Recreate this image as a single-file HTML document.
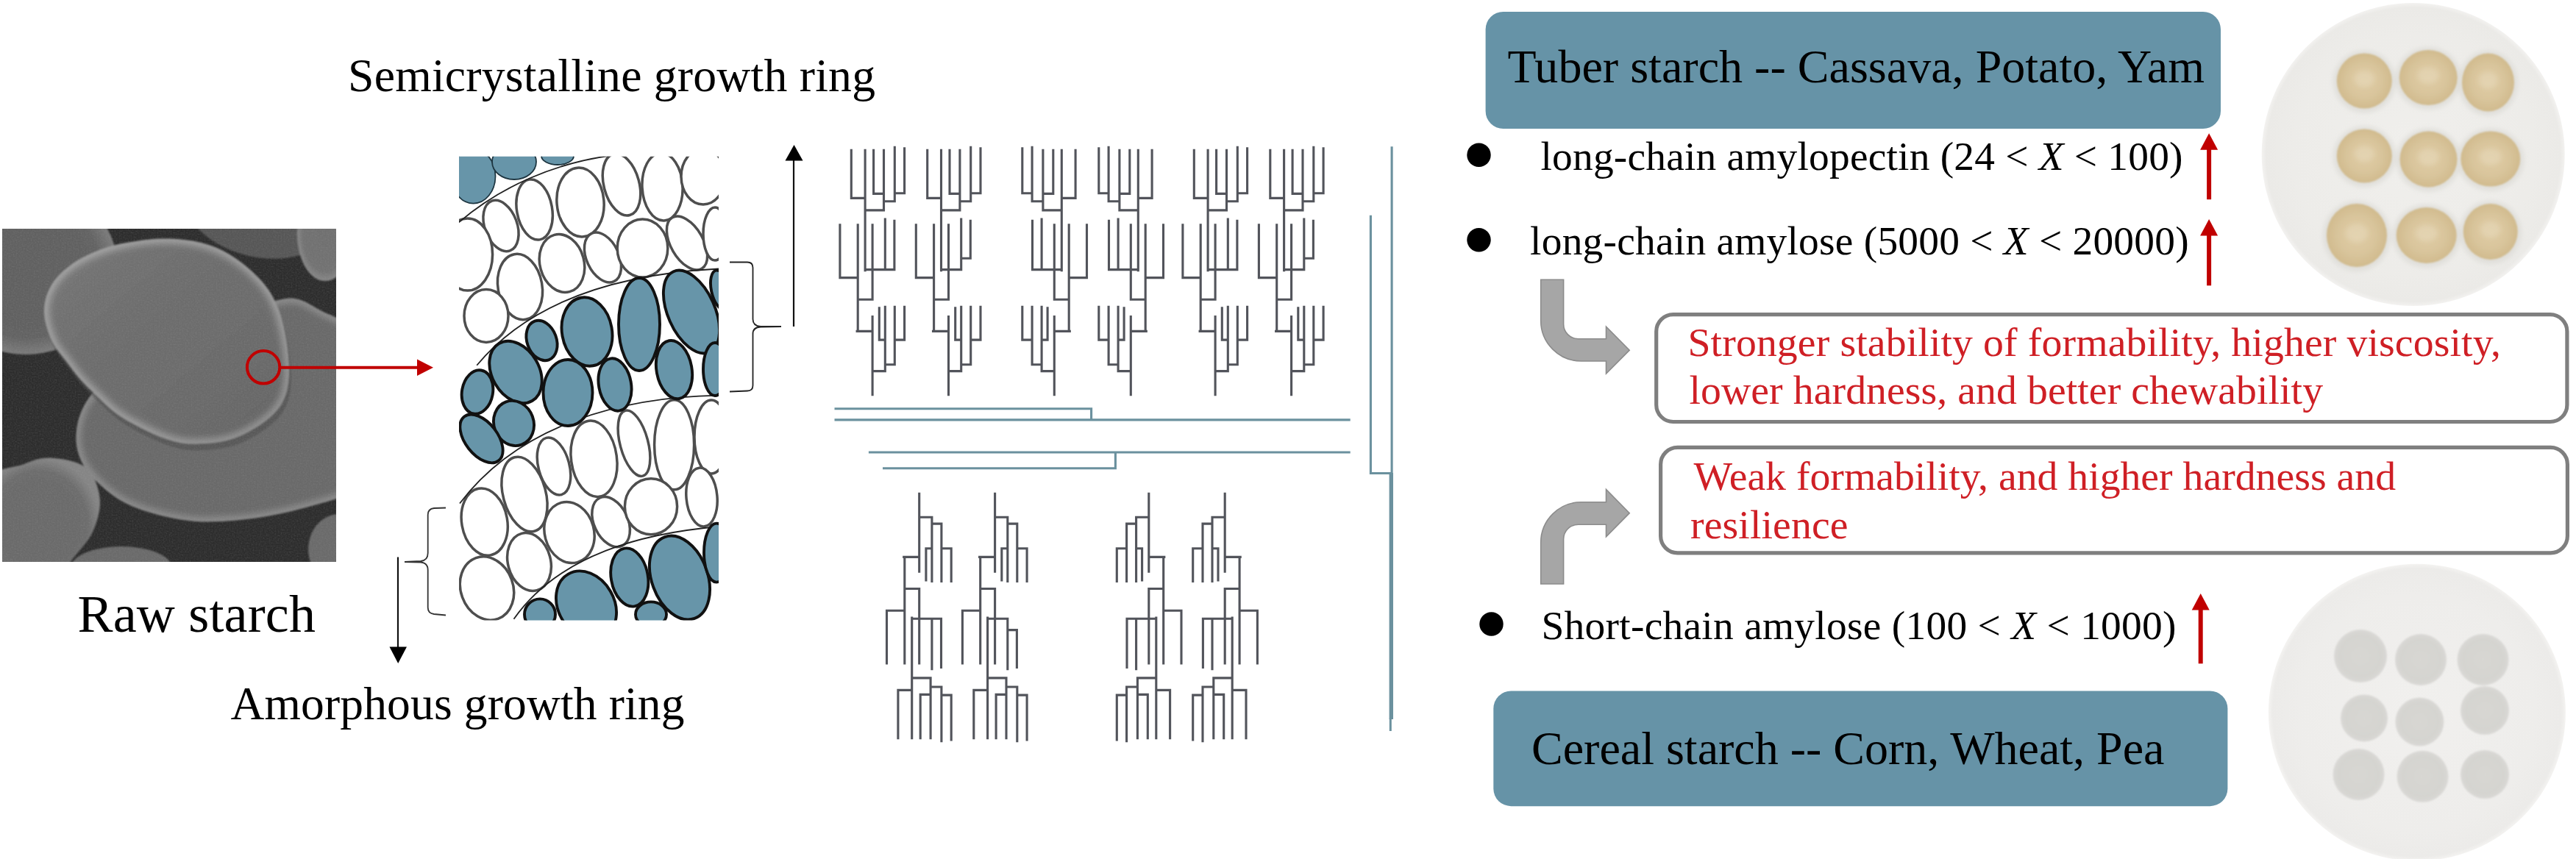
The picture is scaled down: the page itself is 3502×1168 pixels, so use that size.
<!DOCTYPE html>
<html><head><meta charset="utf-8"><title>Starch</title>
<style>html,body{margin:0;padding:0;background:#fff;}svg{display:block}text{font-family:"Liberation Serif",serif;}</style>
</head><body>
<svg width="3502" height="1168" viewBox="0 0 3502 1168">
<defs>
<clipPath id="semclip"><rect x="3" y="311" width="454" height="453"/></clipPath>
<clipPath id="ringclip"><rect x="624" y="212.8" width="353" height="630.8"/></clipPath>
<radialGradient id="gMain" ><stop offset="0" stop-color="#6d6d6d"/><stop offset="0.7" stop-color="#707070"/><stop offset="0.9" stop-color="#808080"/><stop offset="1" stop-color="#969696"/></radialGradient>
<radialGradient id="gSecond" ><stop offset="0" stop-color="#686868"/><stop offset="0.75" stop-color="#6a6a6a"/><stop offset="0.93" stop-color="#767676"/><stop offset="1" stop-color="#8c8c8c"/></radialGradient>
<radialGradient id="gTL" ><stop offset="0" stop-color="#606060"/><stop offset="0.8" stop-color="#626262"/><stop offset="1" stop-color="#7c7c7c"/></radialGradient>
<radialGradient id="gBL" ><stop offset="0" stop-color="#6a6a6a"/><stop offset="0.8" stop-color="#6c6c6c"/><stop offset="1" stop-color="#858585"/></radialGradient>
<radialGradient id="gTR" ><stop offset="0" stop-color="#707070"/><stop offset="0.8" stop-color="#727272"/><stop offset="1" stop-color="#888888"/></radialGradient>
<radialGradient id="gPlate1" ><stop offset="0" stop-color="#f0efec"/><stop offset="0.8" stop-color="#edece9"/><stop offset="0.97" stop-color="#ebeae7"/><stop offset="1" stop-color="#f3f2f0"/></radialGradient>
<radialGradient id="gPlate2" ><stop offset="0" stop-color="#f1f0ee"/><stop offset="0.8" stop-color="#eeedeb"/><stop offset="0.97" stop-color="#ecebe9"/><stop offset="1" stop-color="#f4f3f1"/></radialGradient>
<radialGradient id="gDough" ><stop offset="0" stop-color="#dfcca5"/><stop offset="0.6" stop-color="#d9c59c"/><stop offset="1" stop-color="#d1bb8e"/></radialGradient>
<radialGradient id="gGray" ><stop offset="0" stop-color="#d8d7d3"/><stop offset="0.8" stop-color="#d5d4d0"/><stop offset="1" stop-color="#dad9d6"/></radialGradient>
<filter id="noise" x="0" y="0" width="100%" height="100%"><feTurbulence type="fractalNoise" baseFrequency="0.5" numOctaves="2" seed="3" result="n"/><feColorMatrix in="n" type="matrix" values="0 0 0 0 0.5  0 0 0 0 0.5  0 0 0 0 0.5  0.35 0.35 0.35 0 -0.42"/></filter>
<linearGradient id="gLight" x1="0" y1="0" x2="1" y2="1"><stop offset="0" stop-color="#fff" stop-opacity="0.10"/><stop offset="0.5" stop-color="#808080" stop-opacity="0"/><stop offset="1" stop-color="#000" stop-opacity="0.13"/></linearGradient>
<filter id="blur1"><feGaussianBlur stdDeviation="1.2"/></filter>
<filter id="blur5" x="-10%" y="-10%" width="120%" height="120%"><feGaussianBlur stdDeviation="5"/></filter>
<filter id="blur3"><feGaussianBlur stdDeviation="3"/></filter>
</defs>
<g clip-path="url(#semclip)">
<rect x="3" y="311" width="454" height="453" fill="#2c2c2c"/>
<g filter="url(#blur1)">
<ellipse cx="350" cy="287" rx="100" ry="62" fill="#565656" transform="rotate(14 350 287)"/>
<ellipse cx="35" cy="365" rx="125" ry="117" fill="url(#gTL)"/>
<ellipse cx="442" cy="318" rx="38" ry="64" fill="url(#gTR)"/>
<clipPath id="secclip"><path d="M111.8 556.8C105.7 569.4 103.4 583.8 103.4 595.9C103.4 608.0 106.7 619.2 111.8 629.4C116.9 639.6 124.8 648.4 134.1 657.3C143.4 666.1 154.6 675.5 167.6 682.5C180.6 689.5 196.0 694.9 212.3 699.3C228.6 703.7 247.2 707.6 265.4 709.0C283.6 710.4 302.7 709.2 321.3 707.6C339.9 706.0 358.6 703.0 377.2 699.3C395.8 695.6 417.5 689.8 433.0 685.3C448.5 680.8 457.2 679.5 470.0 672.0C482.8 664.5 500.0 658.7 510.0 640.0C520.0 621.3 530.0 586.7 530.0 560.0C530.0 533.3 520.0 500.0 510.0 480.0C500.0 460.0 482.1 449.5 470.0 440.0C457.9 430.5 448.5 428.6 437.6 423.0C426.7 417.4 415.7 409.0 404.8 406.7C393.9 404.4 389.5 405.5 372.0 409.4C354.5 413.3 328.7 418.2 300.0 430.0C271.3 441.8 226.7 465.0 200.0 480.0C173.3 495.0 154.7 507.2 140.0 520.0C125.3 532.8 117.9 544.1 111.8 556.8Z"/></clipPath>
<g clip-path="url(#secclip)"><path d="M111.8 556.8C105.7 569.4 103.4 583.8 103.4 595.9C103.4 608.0 106.7 619.2 111.8 629.4C116.9 639.6 124.8 648.4 134.1 657.3C143.4 666.1 154.6 675.5 167.6 682.5C180.6 689.5 196.0 694.9 212.3 699.3C228.6 703.7 247.2 707.6 265.4 709.0C283.6 710.4 302.7 709.2 321.3 707.6C339.9 706.0 358.6 703.0 377.2 699.3C395.8 695.6 417.5 689.8 433.0 685.3C448.5 680.8 457.2 679.5 470.0 672.0C482.8 664.5 500.0 658.7 510.0 640.0C520.0 621.3 530.0 586.7 530.0 560.0C530.0 533.3 520.0 500.0 510.0 480.0C500.0 460.0 482.1 449.5 470.0 440.0C457.9 430.5 448.5 428.6 437.6 423.0C426.7 417.4 415.7 409.0 404.8 406.7C393.9 404.4 389.5 405.5 372.0 409.4C354.5 413.3 328.7 418.2 300.0 430.0C271.3 441.8 226.7 465.0 200.0 480.0C173.3 495.0 154.7 507.2 140.0 520.0C125.3 532.8 117.9 544.1 111.8 556.8Z" fill="#696969"/><path d="M111.8 556.8C105.7 569.4 103.4 583.8 103.4 595.9C103.4 608.0 106.7 619.2 111.8 629.4C116.9 639.6 124.8 648.4 134.1 657.3C143.4 666.1 154.6 675.5 167.6 682.5C180.6 689.5 196.0 694.9 212.3 699.3C228.6 703.7 247.2 707.6 265.4 709.0C283.6 710.4 302.7 709.2 321.3 707.6C339.9 706.0 358.6 703.0 377.2 699.3C395.8 695.6 417.5 689.8 433.0 685.3C448.5 680.8 457.2 679.5 470.0 672.0C482.8 664.5 500.0 658.7 510.0 640.0C520.0 621.3 530.0 586.7 530.0 560.0C530.0 533.3 520.0 500.0 510.0 480.0C500.0 460.0 482.1 449.5 470.0 440.0C457.9 430.5 448.5 428.6 437.6 423.0C426.7 417.4 415.7 409.0 404.8 406.7C393.9 404.4 389.5 405.5 372.0 409.4C354.5 413.3 328.7 418.2 300.0 430.0C271.3 441.8 226.7 465.0 200.0 480.0C173.3 495.0 154.7 507.2 140.0 520.0C125.3 532.8 117.9 544.1 111.8 556.8Z" fill="none" stroke="#8e8e8e" stroke-width="12" filter="url(#blur5)"/></g>
<path d="M-21.9 661.0C-12.8 634.1 17.3 637.3 32.8 630.9C48.3 624.6 57.0 621.8 71.1 622.7C85.2 623.6 106.8 627.3 117.6 636.4C128.4 645.5 134.1 663.3 135.7 677.4C137.2 691.6 132.6 708.0 126.9 721.2C121.2 734.4 111.4 744.9 101.2 756.7C91.0 768.6 86.2 786.4 65.6 792.3C45.1 798.2 -7.3 814.2 -21.9 792.3C-36.5 770.4 -31.0 687.9 -21.9 661.0Z" fill="url(#gBL)"/>
<ellipse cx="165" cy="771" rx="68" ry="28" fill="#6a6a6a"/>
<ellipse cx="461" cy="747" rx="42" ry="48" fill="#6b6b6b"/>
<path d="M60.2 425.8C59.9 418.5 60.6 411.2 62.9 403.9C65.2 396.6 68.8 388.9 73.8 382.1C78.9 375.2 85.2 368.8 93.0 362.9C100.7 357.0 109.4 351.5 120.3 346.5C131.3 341.5 142.2 336.5 158.6 332.8C175.0 329.2 199.7 325.1 218.8 324.6C237.9 324.2 257.1 326.0 273.5 330.1C289.9 334.2 303.6 340.6 317.3 349.2C330.9 357.9 345.5 370.7 355.6 382.1C365.6 393.4 371.8 403.9 377.4 417.6C383.1 431.3 386.9 448.1 389.5 464.1C392.0 480.1 393.8 499.2 392.7 513.3C391.7 527.5 389.1 538.4 382.9 548.9C376.7 559.4 367.4 568.0 355.6 576.2C343.7 584.4 327.3 593.6 311.8 598.1C296.3 602.7 276.2 603.6 262.6 603.6C248.9 603.6 241.6 601.8 229.7 598.1C217.9 594.5 203.3 587.6 191.5 581.7C179.6 575.8 168.7 569.9 158.6 562.6C148.6 555.3 139.5 545.7 131.3 537.9C123.1 530.2 116.2 523.8 109.4 516.1C102.6 508.3 96.2 499.2 90.3 491.5C84.3 483.7 78.1 476.9 73.8 469.6C69.6 462.3 66.8 455.0 64.5 447.7C62.3 440.4 60.4 433.1 60.2 425.8Z" fill="#4c4c4c" opacity="0.55" transform="translate(3 9)"/>
<clipPath id="mainclip"><path d="M60.2 425.8C59.9 418.5 60.6 411.2 62.9 403.9C65.2 396.6 68.8 388.9 73.8 382.1C78.9 375.2 85.2 368.8 93.0 362.9C100.7 357.0 109.4 351.5 120.3 346.5C131.3 341.5 142.2 336.5 158.6 332.8C175.0 329.2 199.7 325.1 218.8 324.6C237.9 324.2 257.1 326.0 273.5 330.1C289.9 334.2 303.6 340.6 317.3 349.2C330.9 357.9 345.5 370.7 355.6 382.1C365.6 393.4 371.8 403.9 377.4 417.6C383.1 431.3 386.9 448.1 389.5 464.1C392.0 480.1 393.8 499.2 392.7 513.3C391.7 527.5 389.1 538.4 382.9 548.9C376.7 559.4 367.4 568.0 355.6 576.2C343.7 584.4 327.3 593.6 311.8 598.1C296.3 602.7 276.2 603.6 262.6 603.6C248.9 603.6 241.6 601.8 229.7 598.1C217.9 594.5 203.3 587.6 191.5 581.7C179.6 575.8 168.7 569.9 158.6 562.6C148.6 555.3 139.5 545.7 131.3 537.9C123.1 530.2 116.2 523.8 109.4 516.1C102.6 508.3 96.2 499.2 90.3 491.5C84.3 483.7 78.1 476.9 73.8 469.6C69.6 462.3 66.8 455.0 64.5 447.7C62.3 440.4 60.4 433.1 60.2 425.8Z"/></clipPath>
<g clip-path="url(#mainclip)"><path d="M60.2 425.8C59.9 418.5 60.6 411.2 62.9 403.9C65.2 396.6 68.8 388.9 73.8 382.1C78.9 375.2 85.2 368.8 93.0 362.9C100.7 357.0 109.4 351.5 120.3 346.5C131.3 341.5 142.2 336.5 158.6 332.8C175.0 329.2 199.7 325.1 218.8 324.6C237.9 324.2 257.1 326.0 273.5 330.1C289.9 334.2 303.6 340.6 317.3 349.2C330.9 357.9 345.5 370.7 355.6 382.1C365.6 393.4 371.8 403.9 377.4 417.6C383.1 431.3 386.9 448.1 389.5 464.1C392.0 480.1 393.8 499.2 392.7 513.3C391.7 527.5 389.1 538.4 382.9 548.9C376.7 559.4 367.4 568.0 355.6 576.2C343.7 584.4 327.3 593.6 311.8 598.1C296.3 602.7 276.2 603.6 262.6 603.6C248.9 603.6 241.6 601.8 229.7 598.1C217.9 594.5 203.3 587.6 191.5 581.7C179.6 575.8 168.7 569.9 158.6 562.6C148.6 555.3 139.5 545.7 131.3 537.9C123.1 530.2 116.2 523.8 109.4 516.1C102.6 508.3 96.2 499.2 90.3 491.5C84.3 483.7 78.1 476.9 73.8 469.6C69.6 462.3 66.8 455.0 64.5 447.7C62.3 440.4 60.4 433.1 60.2 425.8Z" fill="#6c6c6c"/><path d="M60.2 425.8C59.9 418.5 60.6 411.2 62.9 403.9C65.2 396.6 68.8 388.9 73.8 382.1C78.9 375.2 85.2 368.8 93.0 362.9C100.7 357.0 109.4 351.5 120.3 346.5C131.3 341.5 142.2 336.5 158.6 332.8C175.0 329.2 199.7 325.1 218.8 324.6C237.9 324.2 257.1 326.0 273.5 330.1C289.9 334.2 303.6 340.6 317.3 349.2C330.9 357.9 345.5 370.7 355.6 382.1C365.6 393.4 371.8 403.9 377.4 417.6C383.1 431.3 386.9 448.1 389.5 464.1C392.0 480.1 393.8 499.2 392.7 513.3C391.7 527.5 389.1 538.4 382.9 548.9C376.7 559.4 367.4 568.0 355.6 576.2C343.7 584.4 327.3 593.6 311.8 598.1C296.3 602.7 276.2 603.6 262.6 603.6C248.9 603.6 241.6 601.8 229.7 598.1C217.9 594.5 203.3 587.6 191.5 581.7C179.6 575.8 168.7 569.9 158.6 562.6C148.6 555.3 139.5 545.7 131.3 537.9C123.1 530.2 116.2 523.8 109.4 516.1C102.6 508.3 96.2 499.2 90.3 491.5C84.3 483.7 78.1 476.9 73.8 469.6C69.6 462.3 66.8 455.0 64.5 447.7C62.3 440.4 60.4 433.1 60.2 425.8Z" fill="none" stroke="#a0a0a0" stroke-width="13" filter="url(#blur5)"/><rect x="55" y="320" width="345" height="290" fill="url(#gLight)"/></g>
</g>
<rect x="3" y="311" width="454" height="453" filter="url(#noise)" opacity="0.4"/>
</g>
<circle cx="358.1" cy="499.3" r="22.2" fill="none" stroke="#c00000" stroke-width="4"/>
<line x1="380" y1="499.7" x2="569" y2="499.7" stroke="#c00000" stroke-width="4"/>
<polygon points="567,488.5 589,499.7 567,511" fill="#c00000"/>
<g clip-path="url(#ringclip)">
<ellipse cx="726.6" cy="285" rx="24" ry="41.5" fill="#fff" stroke="#4e4e4e" stroke-width="3.5" transform="rotate(-10 726.6 285)"/>
<ellipse cx="789" cy="275" rx="32" ry="47" fill="#fff" stroke="#4e4e4e" stroke-width="3.5" transform="rotate(-5 789 275)"/>
<ellipse cx="845" cy="251" rx="24" ry="43" fill="#fff" stroke="#4e4e4e" stroke-width="3.5" transform="rotate(-15 845 251)"/>
<ellipse cx="900.5" cy="254" rx="27.5" ry="46" fill="#fff" stroke="#4e4e4e" stroke-width="3.5" transform="rotate(-3 900.5 254)"/>
<ellipse cx="956" cy="240" rx="30" ry="38" fill="#fff" stroke="#4e4e4e" stroke-width="3.5" transform="rotate(0 956 240)"/>
<ellipse cx="681" cy="307" rx="22" ry="36" fill="#fff" stroke="#4e4e4e" stroke-width="3.5" transform="rotate(-20 681 307)"/>
<ellipse cx="635.6" cy="346" rx="34" ry="49" fill="#fff" stroke="#4e4e4e" stroke-width="3.5" transform="rotate(0 635.6 346)"/>
<ellipse cx="707" cy="390" rx="30" ry="45" fill="#fff" stroke="#4e4e4e" stroke-width="3.5" transform="rotate(-10 707 390)"/>
<ellipse cx="764" cy="358" rx="30" ry="40" fill="#fff" stroke="#4e4e4e" stroke-width="3.5" transform="rotate(-15 764 358)"/>
<ellipse cx="819.5" cy="350" rx="22" ry="36" fill="#fff" stroke="#4e4e4e" stroke-width="3.5" transform="rotate(-25 819.5 350)"/>
<ellipse cx="873.5" cy="337.5" rx="34.3" ry="39.5" fill="#fff" stroke="#4e4e4e" stroke-width="3.5" transform="rotate(0 873.5 337.5)"/>
<ellipse cx="934" cy="330.5" rx="22" ry="40" fill="#fff" stroke="#4e4e4e" stroke-width="3.5" transform="rotate(-30 934 330.5)"/>
<ellipse cx="972" cy="318" rx="16" ry="36" fill="#fff" stroke="#4e4e4e" stroke-width="3.5" transform="rotate(0 972 318)"/>
<ellipse cx="661" cy="429.5" rx="30" ry="36" fill="#fff" stroke="#4e4e4e" stroke-width="3.5" transform="rotate(0 661 429.5)"/>
<ellipse cx="713" cy="672" rx="29" ry="52" fill="#fff" stroke="#4e4e4e" stroke-width="3.5" transform="rotate(-15 713 672)"/>
<ellipse cx="753" cy="634" rx="21" ry="40" fill="#fff" stroke="#4e4e4e" stroke-width="3.5" transform="rotate(-15 753 634)"/>
<ellipse cx="807.5" cy="623.7" rx="31" ry="52" fill="#fff" stroke="#4e4e4e" stroke-width="3.5" transform="rotate(-8 807.5 623.7)"/>
<ellipse cx="862" cy="602.7" rx="19" ry="46" fill="#fff" stroke="#4e4e4e" stroke-width="3.5" transform="rotate(-15 862 602.7)"/>
<ellipse cx="916.6" cy="604.8" rx="27" ry="61" fill="#fff" stroke="#4e4e4e" stroke-width="3.5" transform="rotate(0 916.6 604.8)"/>
<ellipse cx="967" cy="594" rx="23" ry="50" fill="#fff" stroke="#4e4e4e" stroke-width="3.5" transform="rotate(0 967 594)"/>
<ellipse cx="658.7" cy="709.6" rx="31" ry="46" fill="#fff" stroke="#4e4e4e" stroke-width="3.5" transform="rotate(-10 658.7 709.6)"/>
<ellipse cx="774" cy="724" rx="33.5" ry="42" fill="#fff" stroke="#4e4e4e" stroke-width="3.5" transform="rotate(-15 774 724)"/>
<ellipse cx="830.6" cy="709.6" rx="23" ry="36" fill="#fff" stroke="#4e4e4e" stroke-width="3.5" transform="rotate(-25 830.6 709.6)"/>
<ellipse cx="885" cy="688.7" rx="35.6" ry="38" fill="#fff" stroke="#4e4e4e" stroke-width="3.5" transform="rotate(0 885 688.7)"/>
<ellipse cx="954" cy="676" rx="21" ry="40" fill="#fff" stroke="#4e4e4e" stroke-width="3.5" transform="rotate(-5 954 676)"/>
<ellipse cx="719.5" cy="764" rx="29" ry="40" fill="#fff" stroke="#4e4e4e" stroke-width="3.5" transform="rotate(-15 719.5 764)"/>
<ellipse cx="662" cy="800" rx="35.6" ry="44" fill="#fff" stroke="#4e4e4e" stroke-width="3.5" transform="rotate(-20 662 800)"/>
<path d="M623.8 302.3 C681.8 252.7 754.6 222.0 830.0 211.5" fill="none" stroke="#222" stroke-width="1.8"/>
<path d="M648.2 496.7 C727.8 400.6 859.6 371.3 978.6 365.4" fill="none" stroke="#222" stroke-width="1.8"/>
<path d="M625.0 684.5 C706.7 576.2 847.8 539.9 977.0 537.7" fill="none" stroke="#222" stroke-width="1.8"/>
<path d="M698.5 841.7 C761.3 752.8 875.7 724.9 977.0 716.0" fill="none" stroke="#222" stroke-width="1.8"/>
<ellipse cx="643.5" cy="239.6" rx="30" ry="37" fill="#6795a9" stroke="#1d3540" stroke-width="1.8" transform="rotate(0 643.5 239.6)"/>
<ellipse cx="699" cy="220" rx="30" ry="24" fill="#6795a9" stroke="#1d3540" stroke-width="1.8" transform="rotate(0 699 220)"/>
<ellipse cx="758" cy="212" rx="22" ry="12" fill="#6795a9" stroke="#1d3540" stroke-width="1.8" transform="rotate(0 758 212)"/>
<ellipse cx="736.5" cy="463" rx="20" ry="28" fill="#6795a9" stroke="#111" stroke-width="3.9" transform="rotate(-20 736.5 463)"/>
<ellipse cx="798" cy="451" rx="34" ry="47" fill="#6795a9" stroke="#111" stroke-width="3.9" transform="rotate(-10 798 451)"/>
<ellipse cx="869" cy="441" rx="28" ry="63" fill="#6795a9" stroke="#111" stroke-width="3.9" transform="rotate(0 869 441)"/>
<ellipse cx="940" cy="424" rx="32" ry="60" fill="#6795a9" stroke="#111" stroke-width="3.9" transform="rotate(-24 940 424)"/>
<ellipse cx="979" cy="394" rx="12" ry="27" fill="#6795a9" stroke="#111" stroke-width="3.9" transform="rotate(-12 979 394)"/>
<ellipse cx="701" cy="506" rx="32" ry="45" fill="#6795a9" stroke="#111" stroke-width="3.9" transform="rotate(-30 701 506)"/>
<ellipse cx="649" cy="533" rx="21" ry="30" fill="#6795a9" stroke="#111" stroke-width="3.9" transform="rotate(10 649 533)"/>
<ellipse cx="772" cy="534" rx="33.5" ry="45" fill="#6795a9" stroke="#111" stroke-width="3.9" transform="rotate(0 772 534)"/>
<ellipse cx="836" cy="523" rx="22" ry="36" fill="#6795a9" stroke="#111" stroke-width="3.9" transform="rotate(-10 836 523)"/>
<ellipse cx="916.5" cy="502.6" rx="24" ry="40" fill="#6795a9" stroke="#111" stroke-width="3.9" transform="rotate(-10 916.5 502.6)"/>
<ellipse cx="972" cy="502" rx="16" ry="36" fill="#6795a9" stroke="#111" stroke-width="3.9" transform="rotate(0 972 502)"/>
<ellipse cx="698.5" cy="575.5" rx="27" ry="31" fill="#6795a9" stroke="#111" stroke-width="3.9" transform="rotate(-20 698.5 575.5)"/>
<ellipse cx="654.5" cy="596.4" rx="22" ry="38" fill="#6795a9" stroke="#111" stroke-width="3.9" transform="rotate(-38 654.5 596.4)"/>
<ellipse cx="797" cy="823" rx="38" ry="49" fill="#6795a9" stroke="#111" stroke-width="3.9" transform="rotate(-30 797 823)"/>
<ellipse cx="855.8" cy="785" rx="25" ry="40" fill="#6795a9" stroke="#111" stroke-width="3.9" transform="rotate(-10 855.8 785)"/>
<ellipse cx="924" cy="785.5" rx="38" ry="59" fill="#6795a9" stroke="#111" stroke-width="3.9" transform="rotate(-20 924 785.5)"/>
<ellipse cx="974" cy="751.6" rx="17" ry="40" fill="#6795a9" stroke="#111" stroke-width="3.9" transform="rotate(0 974 751.6)"/>
<ellipse cx="734" cy="835.4" rx="21" ry="21" fill="#6795a9" stroke="#111" stroke-width="3.9" transform="rotate(0 734 835.4)"/>
<ellipse cx="885" cy="835.4" rx="21" ry="17" fill="#6795a9" stroke="#111" stroke-width="3.9" transform="rotate(0 885 835.4)"/>
</g>
<path d="M 992 356.5 L 1016 356.5 Q 1023.5 356.5 1023.5 364 L 1023.5 434 Q 1023.5 443 1034 444 L 1062 444 L 1034 444.5 Q 1023.5 445 1023.5 454 L 1023.5 524 Q 1023.5 531.5 1016 531.5 L 992 532.5" fill="none" stroke="#222" stroke-width="1.8"/>
<line x1="1079" y1="444" x2="1079" y2="218" stroke="#111" stroke-width="2.2"/>
<polygon points="1067.5,218.5 1091.5,218.5 1079.5,197" fill="#000"/>
<path d="M 606 690.5 L 590 691 Q 581.7 692 581.7 700 L 581.7 752 Q 581.7 762 572 763 L 550 764 L 572 764.5 Q 581.7 765.5 581.7 775 L 581.7 826 Q 581.7 834 590 835 L 606 836.5" fill="none" stroke="#333" stroke-width="1.8"/>
<line x1="541" y1="757.5" x2="541" y2="880" stroke="#111" stroke-width="2.2"/>
<polygon points="529.5,879.5 553,879.5 541.2,902" fill="#000"/>
<path d="M1157.3 204.2L1157.3 269.4M1157.3 269.4L1176.1 269.4M1176.1 204.2L1176.1 367.7M1187.6 204.2L1187.6 263.4M1187.6 263.4L1201.5 263.4M1201.5 204.2L1201.5 285.9M1176.1 285.9L1201.5 285.9M1201.5 273.8L1216.3 273.8M1216.3 200.2L1216.3 273.8M1216.3 262.7L1229.6 262.7M1229.6 201.9L1229.6 262.7M1141.9 305.8L1141.9 377.6M1141.9 377.6L1166.2 377.6M1166.2 305.8L1166.2 450.4M1186.1 305.8L1186.1 407.3M1176.1 366.6L1215.9 366.6M1203.3 298.1L1203.3 366.6M1215.9 300.3L1215.9 366.6M1166.2 407.3L1186.1 407.3M1165.1 450.4L1186.1 450.4M1186.1 430.5L1186.1 536.6M1186.1 504.6L1203.3 504.6M1203.3 417.3L1203.3 504.6M1203.3 495.7L1216.3 495.7M1216.3 417.3L1216.3 495.7M1216.3 462.1L1229.6 462.1M1229.6 417.3L1229.6 462.1M1195.3 418.8L1195.3 462.1M1195.3 462.1L1203.3 462.1M1260.7 204.2L1260.7 269.4M1260.7 269.4L1279.5 269.4M1279.5 204.2L1279.5 367.7M1291.0 204.2L1291.0 263.4M1291.0 263.4L1304.9 263.4M1304.9 204.2L1304.9 285.9M1279.5 285.9L1304.9 285.9M1304.9 273.8L1319.7 273.8M1319.7 200.2L1319.7 273.8M1319.7 262.7L1333.0 262.7M1333.0 201.9L1333.0 262.7M1245.3 305.8L1245.3 377.6M1245.3 377.6L1269.6 377.6M1269.6 305.8L1269.6 450.4M1289.5 305.8L1289.5 407.3M1279.5 366.6L1306.7 366.6M1306.7 298.1L1306.7 366.6M1319.3 300.3L1319.3 351.2M1269.6 407.3L1289.5 407.3M1268.5 450.4L1289.5 450.4M1289.5 430.5L1289.5 536.6M1289.5 504.6L1306.7 504.6M1306.7 417.3L1306.7 504.6M1306.7 495.7L1319.7 495.7M1319.7 417.3L1319.7 495.7M1319.7 462.1L1333.0 462.1M1333.0 417.3L1333.0 462.1M1298.7 418.8L1298.7 462.1M1298.7 462.1L1306.7 462.1M1306.7 351.2L1319.3 351.2M1462.1 204.2L1462.1 269.4M1462.1 269.4L1443.3 269.4M1443.3 204.2L1443.3 367.7M1431.8 204.2L1431.8 263.4M1431.8 263.4L1417.9 263.4M1417.9 204.2L1417.9 285.9M1443.3 285.9L1417.9 285.9M1417.9 273.8L1403.1 273.8M1403.1 200.2L1403.1 273.8M1403.1 262.7L1389.8 262.7M1389.8 201.9L1389.8 262.7M1477.5 305.8L1477.5 377.6M1477.5 377.6L1453.2 377.6M1453.2 305.8L1453.2 450.4M1433.3 305.8L1433.3 407.3M1443.3 366.6L1403.5 366.6M1416.1 298.1L1416.1 366.6M1403.5 300.3L1403.5 366.6M1453.2 407.3L1433.3 407.3M1454.3 450.4L1433.3 450.4M1433.3 430.5L1433.3 536.6M1433.3 504.6L1416.1 504.6M1416.1 417.3L1416.1 504.6M1416.1 495.7L1403.1 495.7M1403.1 417.3L1403.1 495.7M1403.1 462.1L1389.8 462.1M1389.8 417.3L1389.8 462.1M1424.1 418.8L1424.1 462.1M1424.1 462.1L1416.1 462.1M1566.1 204.2L1566.1 269.4M1566.1 269.4L1547.3 269.4M1547.3 204.2L1547.3 367.7M1535.8 204.2L1535.8 263.4M1535.8 263.4L1521.9 263.4M1521.9 204.2L1521.9 285.9M1547.3 285.9L1521.9 285.9M1521.9 273.8L1507.1 273.8M1507.1 200.2L1507.1 273.8M1507.1 262.7L1493.8 262.7M1493.8 201.9L1493.8 262.7M1581.5 305.8L1581.5 377.6M1581.5 377.6L1557.2 377.6M1557.2 305.8L1557.2 450.4M1537.3 305.8L1537.3 407.3M1547.3 366.6L1507.5 366.6M1520.1 298.1L1520.1 366.6M1507.5 300.3L1507.5 366.6M1557.2 407.3L1537.3 407.3M1558.3 450.4L1537.3 450.4M1537.3 430.5L1537.3 536.6M1537.3 504.6L1520.1 504.6M1520.1 417.3L1520.1 504.6M1520.1 495.7L1507.1 495.7M1507.1 417.3L1507.1 495.7M1507.1 462.1L1493.8 462.1M1493.8 417.3L1493.8 462.1M1528.1 418.8L1528.1 462.1M1528.1 462.1L1520.1 462.1M1623.3 204.2L1623.3 269.4M1623.3 269.4L1642.1 269.4M1642.1 204.2L1642.1 367.7M1653.6 204.2L1653.6 263.4M1653.6 263.4L1667.5 263.4M1667.5 204.2L1667.5 285.9M1642.1 285.9L1667.5 285.9M1667.5 273.8L1682.3 273.8M1682.3 200.2L1682.3 273.8M1682.3 262.7L1695.6 262.7M1695.6 201.9L1695.6 262.7M1607.9 305.8L1607.9 377.6M1607.9 377.6L1632.2 377.6M1632.2 305.8L1632.2 450.4M1652.1 305.8L1652.1 407.3M1642.1 366.6L1681.9 366.6M1669.3 298.1L1669.3 366.6M1681.9 300.3L1681.9 366.6M1632.2 407.3L1652.1 407.3M1631.1 450.4L1652.1 450.4M1652.1 430.5L1652.1 536.6M1652.1 504.6L1669.3 504.6M1669.3 417.3L1669.3 504.6M1669.3 495.7L1682.3 495.7M1682.3 417.3L1682.3 495.7M1682.3 462.1L1695.6 462.1M1695.6 417.3L1695.6 462.1M1661.3 418.8L1661.3 462.1M1661.3 462.1L1669.3 462.1M1726.8 204.2L1726.8 269.4M1726.8 269.4L1745.6 269.4M1745.6 204.2L1745.6 367.7M1757.1 204.2L1757.1 263.4M1757.1 263.4L1771.0 263.4M1771.0 204.2L1771.0 285.9M1745.6 285.9L1771.0 285.9M1771.0 273.8L1785.8 273.8M1785.8 200.2L1785.8 273.8M1785.8 262.7L1799.1 262.7M1799.1 201.9L1799.1 262.7M1711.4 305.8L1711.4 377.6M1711.4 377.6L1735.7 377.6M1735.7 305.8L1735.7 450.4M1755.6 305.8L1755.6 407.3M1745.6 366.6L1772.8 366.6M1772.8 298.1L1772.8 366.6M1785.4 300.3L1785.4 351.2M1735.7 407.3L1755.6 407.3M1734.6 450.4L1755.6 450.4M1755.6 430.5L1755.6 536.6M1755.6 504.6L1772.8 504.6M1772.8 417.3L1772.8 504.6M1772.8 495.7L1785.8 495.7M1785.8 417.3L1785.8 495.7M1785.8 462.1L1799.1 462.1M1799.1 417.3L1799.1 462.1M1764.8 418.8L1764.8 462.1M1764.8 462.1L1772.8 462.1M1772.8 351.2L1785.4 351.2M1220.9 1003.6L1220.9 938.4M1220.9 938.4L1239.7 938.4M1239.7 1003.6L1239.7 840.1M1251.2 1003.6L1251.2 944.4M1251.2 944.4L1265.1 944.4M1265.1 1003.6L1265.1 921.9M1239.7 921.9L1265.1 921.9M1265.1 934.0L1279.9 934.0M1279.9 1007.6L1279.9 934.0M1279.9 945.1L1293.2 945.1M1293.2 1005.9L1293.2 945.1M1205.5 902.0L1205.5 830.2M1205.5 830.2L1229.8 830.2M1229.8 902.0L1229.8 757.4M1249.7 902.0L1249.7 800.5M1239.7 841.2L1279.5 841.2M1266.9 909.7L1266.9 841.2M1279.5 907.5L1279.5 841.2M1229.8 800.5L1249.7 800.5M1228.7 757.4L1249.7 757.4M1249.7 777.3L1249.7 671.2M1249.7 703.2L1266.9 703.2M1266.9 790.5L1266.9 703.2M1266.9 712.1L1279.9 712.1M1279.9 790.5L1279.9 712.1M1279.9 745.7L1293.2 745.7M1293.2 790.5L1293.2 745.7M1258.9 789.0L1258.9 745.7M1258.9 745.7L1266.9 745.7M1323.8 1003.6L1323.8 938.4M1323.8 938.4L1342.6 938.4M1342.6 1003.6L1342.6 840.1M1354.1 1003.6L1354.1 944.4M1354.1 944.4L1368.0 944.4M1368.0 1003.6L1368.0 921.9M1342.6 921.9L1368.0 921.9M1368.0 934.0L1382.8 934.0M1382.8 1007.6L1382.8 934.0M1382.8 945.1L1396.1 945.1M1396.1 1005.9L1396.1 945.1M1308.4 902.0L1308.4 830.2M1308.4 830.2L1332.7 830.2M1332.7 902.0L1332.7 757.4M1352.6 902.0L1352.6 800.5M1342.6 841.2L1369.8 841.2M1369.8 909.7L1369.8 841.2M1382.4 907.5L1382.4 856.6M1332.7 800.5L1352.6 800.5M1331.6 757.4L1352.6 757.4M1352.6 777.3L1352.6 671.2M1352.6 703.2L1369.8 703.2M1369.8 790.5L1369.8 703.2M1369.8 712.1L1382.8 712.1M1382.8 790.5L1382.8 712.1M1382.8 745.7L1396.1 745.7M1396.1 790.5L1396.1 745.7M1361.8 789.0L1361.8 745.7M1361.8 745.7L1369.8 745.7M1369.8 856.6L1382.4 856.6M1590.6 1003.6L1590.6 938.4M1590.6 938.4L1571.8 938.4M1571.8 1003.6L1571.8 840.1M1560.3 1003.6L1560.3 944.4M1560.3 944.4L1546.4 944.4M1546.4 1003.6L1546.4 921.9M1571.8 921.9L1546.4 921.9M1546.4 934.0L1531.6 934.0M1531.6 1007.6L1531.6 934.0M1531.6 945.1L1518.3 945.1M1518.3 1005.9L1518.3 945.1M1606.0 902.0L1606.0 830.2M1606.0 830.2L1581.7 830.2M1581.7 902.0L1581.7 757.4M1561.8 902.0L1561.8 800.5M1571.8 841.2L1532.0 841.2M1544.6 909.7L1544.6 841.2M1532.0 907.5L1532.0 841.2M1581.7 800.5L1561.8 800.5M1582.8 757.4L1561.8 757.4M1561.8 777.3L1561.8 671.2M1561.8 703.2L1544.6 703.2M1544.6 790.5L1544.6 703.2M1544.6 712.1L1531.6 712.1M1531.6 790.5L1531.6 712.1M1531.6 745.7L1518.3 745.7M1518.3 790.5L1518.3 745.7M1552.6 789.0L1552.6 745.7M1552.6 745.7L1544.6 745.7M1694.0 1003.6L1694.0 938.4M1694.0 938.4L1675.2 938.4M1675.2 1003.6L1675.2 840.1M1663.7 1003.6L1663.7 944.4M1663.7 944.4L1649.8 944.4M1649.8 1003.6L1649.8 921.9M1675.2 921.9L1649.8 921.9M1649.8 934.0L1635.0 934.0M1635.0 1007.6L1635.0 934.0M1635.0 945.1L1621.7 945.1M1621.7 1005.9L1621.7 945.1M1709.4 902.0L1709.4 830.2M1709.4 830.2L1685.1 830.2M1685.1 902.0L1685.1 757.4M1665.2 902.0L1665.2 800.5M1675.2 841.2L1635.4 841.2M1648.0 909.7L1648.0 841.2M1635.4 907.5L1635.4 841.2M1685.1 800.5L1665.2 800.5M1686.2 757.4L1665.2 757.4M1665.2 777.3L1665.2 671.2M1665.2 703.2L1648.0 703.2M1648.0 790.5L1648.0 703.2M1648.0 712.1L1635.0 712.1M1635.0 790.5L1635.0 712.1M1635.0 745.7L1621.7 745.7M1621.7 790.5L1621.7 745.7M1656.0 789.0L1656.0 745.7M1656.0 745.7L1648.0 745.7" fill="none" stroke="#52545b" stroke-width="3.1" stroke-linecap="square"/>
<path d="M1134.5 555.7 L1483.6 555.7 L1483.6 571 M1134.5 570.9 L1835.7 570.9 M1180.9 615 L1835.7 615 M1200 636.7 L1516.4 636.7 L1516.4 615 M1863.4 292.8 L1863.4 643.5 L1892 643.5 M1892.1 199.2 L1892.1 644" fill="none" stroke="#6b919e" stroke-width="3.1"/>
<path d="M1891.3 643 L1891.3 978" fill="none" stroke="#6b919e" stroke-width="5.4"/>
<path d="M1890.3 977 L1890.3 994" fill="none" stroke="#6b919e" stroke-width="3"/>
<rect x="2019.6" y="16" width="999.4" height="159" rx="24" ry="24" fill="#6693a7"/>
<rect x="2030.3" y="939.4" width="998.1" height="156.8" rx="24" ry="24" fill="#6693a7"/>
<text x="2049.50" y="112.3" font-size="64" fill="#000" xml:space="preserve" textLength="947.50" lengthAdjust="spacing">Tuber starch -- Cassava, Potato, Yam</text>
<text x="2082.00" y="1038.9" font-size="64" fill="#000" xml:space="preserve" textLength="860.50" lengthAdjust="spacing">Cereal starch -- Corn, Wheat, Pea</text>
<text x="2094.50" y="231.0" font-size="55.4" fill="#000" xml:space="preserve" textLength="873.00" lengthAdjust="spacing">long-chain amylopectin (24 &lt; <tspan font-style="italic">X</tspan> &lt; 100)</text>
<text x="2080.10" y="345.8" font-size="55.4" fill="#000" xml:space="preserve" textLength="895.50" lengthAdjust="spacing">long-chain amylose (5000 &lt; <tspan font-style="italic">X</tspan> &lt; 20000)</text>
<text x="2095.50" y="868.7" font-size="55.4" fill="#000" xml:space="preserve" textLength="863.00" lengthAdjust="spacing">Short-chain amylose (100 &lt; <tspan font-style="italic">X</tspan> &lt; 1000)</text>
<circle cx="2010.5" cy="210.7" r="16.2" fill="#000"/>
<circle cx="2010.5" cy="326.2" r="16.2" fill="#000"/>
<circle cx="2027.5" cy="848.5" r="16.2" fill="#000"/>
<line x1="3003.1" y1="199.2" x2="3003.1" y2="271.2" stroke="#c00000" stroke-width="6"/>
<polygon points="2991.1,203.7 3015.1,203.7 3003.1,181.2" fill="#c00000"/>
<line x1="3003.1" y1="316" x2="3003.1" y2="388.3" stroke="#c00000" stroke-width="6"/>
<polygon points="2991.1,320.5 3015.1,320.5 3003.1,298" fill="#c00000"/>
<line x1="2991.7" y1="825" x2="2991.7" y2="902.3" stroke="#c00000" stroke-width="6"/>
<polygon points="2979.7,829.5 3003.7,829.5 2991.7,807" fill="#c00000"/>
<rect x="2251.7" y="427.7" width="1238.2" height="145.8" rx="23" ry="23" fill="#fff" stroke="#7f7f7f" stroke-width="5.2"/>
<rect x="2257.6" y="608.4" width="1232.8" height="143.4" rx="23" ry="23" fill="#fff" stroke="#7f7f7f" stroke-width="5.2"/>
<text x="2294.50" y="484.3" font-size="55.75" fill="#cf1f25" xml:space="preserve" textLength="1105.50" lengthAdjust="spacing">Stronger stability of formability, higher viscosity,</text>
<text x="2296.50" y="548.5" font-size="55.75" fill="#cf1f25" xml:space="preserve" textLength="861.50" lengthAdjust="spacing">lower hardness, and better chewability</text>
<text x="2302.50" y="665.8" font-size="55.75" fill="#cf1f25" xml:space="preserve" textLength="954.50" lengthAdjust="spacing">Weak formability, and higher hardness and</text>
<text x="2298.00" y="731.5" font-size="55.75" fill="#cf1f25" xml:space="preserve" textLength="214.50" lengthAdjust="spacing">resilience</text>
<path d="M2094.7 380.3 L2125.6 380.3 L2125.6 440.7 A20 20 0 0 0 2145.6 460.7 L2183.5 460.7 L2183.5 444.3 L2215.2 476.15 L2183.5 508.0 L2183.5 491.0 L2149.7 491.0 A55 55 0 0 1 2094.7 436.0 Z" fill="#a6a6a6" stroke="#8c8c8c" stroke-width="1.6" stroke-linejoin="miter"/>
<path d="M2094.7 794.0 L2125.6 794.0 L2125.6 733.2 A20 20 0 0 1 2145.6 713.2 L2183.5 713.2 L2183.5 729.8 L2215.2 697.65 L2183.5 665.5 L2183.5 682.8 L2149.7 682.8 A55 55 0 0 0 2094.7 737.8 Z" fill="#a6a6a6" stroke="#8c8c8c" stroke-width="1.6" stroke-linejoin="miter"/>
<circle cx="3280.7" cy="210" r="206" fill="url(#gPlate1)"/>
<g filter="url(#blur3)" opacity="0.8">
<ellipse cx="3214.3" cy="111" rx="42.5" ry="42.5" fill="#dddcd7"/>
<ellipse cx="3301.2" cy="106.5" rx="44.5" ry="42.5" fill="#dddcd7"/>
<ellipse cx="3382.5" cy="113" rx="40.5" ry="44.5" fill="#dddcd7"/>
<ellipse cx="3214.3" cy="213" rx="42.5" ry="41.5" fill="#dddcd7"/>
<ellipse cx="3301.5" cy="217.5" rx="44" ry="43" fill="#dddcd7"/>
<ellipse cx="3385.8" cy="217" rx="45.5" ry="42.5" fill="#dddcd7"/>
<ellipse cx="3204" cy="321" rx="46" ry="48" fill="#dddcd7"/>
<ellipse cx="3298.7" cy="321" rx="46" ry="43" fill="#dddcd7"/>
<ellipse cx="3385.7" cy="316" rx="42" ry="43" fill="#dddcd7"/>
</g>
<g filter="url(#blur1)">
<ellipse cx="3214.3" cy="110" rx="37.5" ry="37.5" fill="url(#gDough)"/>
<ellipse cx="3301.2" cy="105.5" rx="39.5" ry="37.5" fill="url(#gDough)"/>
<ellipse cx="3382.5" cy="112" rx="35.5" ry="39.5" fill="url(#gDough)"/>
<ellipse cx="3214.3" cy="212" rx="37.5" ry="36.5" fill="url(#gDough)"/>
<ellipse cx="3301.5" cy="216.5" rx="39" ry="38" fill="url(#gDough)"/>
<ellipse cx="3385.8" cy="216" rx="40.5" ry="37.5" fill="url(#gDough)"/>
<ellipse cx="3204" cy="320" rx="41" ry="43" fill="url(#gDough)"/>
<ellipse cx="3298.7" cy="320" rx="41" ry="38" fill="url(#gDough)"/>
<ellipse cx="3385.7" cy="315" rx="37" ry="38" fill="url(#gDough)"/>
</g>
<g filter="url(#blur3)" opacity="0.4">
<ellipse cx="3214.3" cy="107" rx="14.2" ry="11.2" fill="#ebdfc4"/>
<ellipse cx="3301.2" cy="102.5" rx="15.0" ry="11.2" fill="#ebdfc4"/>
<ellipse cx="3382.5" cy="109" rx="13.5" ry="11.8" fill="#ebdfc4"/>
<ellipse cx="3214.3" cy="209" rx="14.2" ry="10.9" fill="#ebdfc4"/>
<ellipse cx="3301.5" cy="213.5" rx="14.8" ry="11.4" fill="#ebdfc4"/>
<ellipse cx="3385.8" cy="213" rx="15.4" ry="11.2" fill="#ebdfc4"/>
<ellipse cx="3204" cy="317" rx="15.6" ry="12.9" fill="#ebdfc4"/>
<ellipse cx="3298.7" cy="317" rx="15.6" ry="11.4" fill="#ebdfc4"/>
<ellipse cx="3385.7" cy="312" rx="14.1" ry="11.4" fill="#ebdfc4"/>
</g>
<circle cx="3285.9" cy="968.7" r="202" fill="url(#gPlate2)"/>
<g filter="url(#blur1)">
<ellipse cx="3209" cy="892" rx="36" ry="36" fill="url(#gGray)"/>
<ellipse cx="3291" cy="897" rx="35" ry="35" fill="url(#gGray)"/>
<ellipse cx="3375.5" cy="897" rx="35" ry="35" fill="url(#gGray)"/>
<ellipse cx="3214" cy="976.4" rx="32" ry="32" fill="url(#gGray)"/>
<ellipse cx="3289.4" cy="981.5" rx="33" ry="33" fill="url(#gGray)"/>
<ellipse cx="3378" cy="966" rx="33" ry="33" fill="url(#gGray)"/>
<ellipse cx="3206.5" cy="1053" rx="35" ry="35" fill="url(#gGray)"/>
<ellipse cx="3293.5" cy="1055.8" rx="35" ry="35" fill="url(#gGray)"/>
<ellipse cx="3378" cy="1053" rx="33" ry="33" fill="url(#gGray)"/>
</g>
<text x="473.00" y="123.5" font-size="63.7" fill="#000" xml:space="preserve" textLength="717.00" lengthAdjust="spacing">Semicrystalline growth ring</text>
<text x="105.50" y="858.6" font-size="72" fill="#000" xml:space="preserve" textLength="323.50" lengthAdjust="spacing">Raw starch</text>
<text x="313.50" y="977.7" font-size="63.5" fill="#000" xml:space="preserve" textLength="617.00" lengthAdjust="spacing">Amorphous growth ring</text>
</svg>
</body></html>
